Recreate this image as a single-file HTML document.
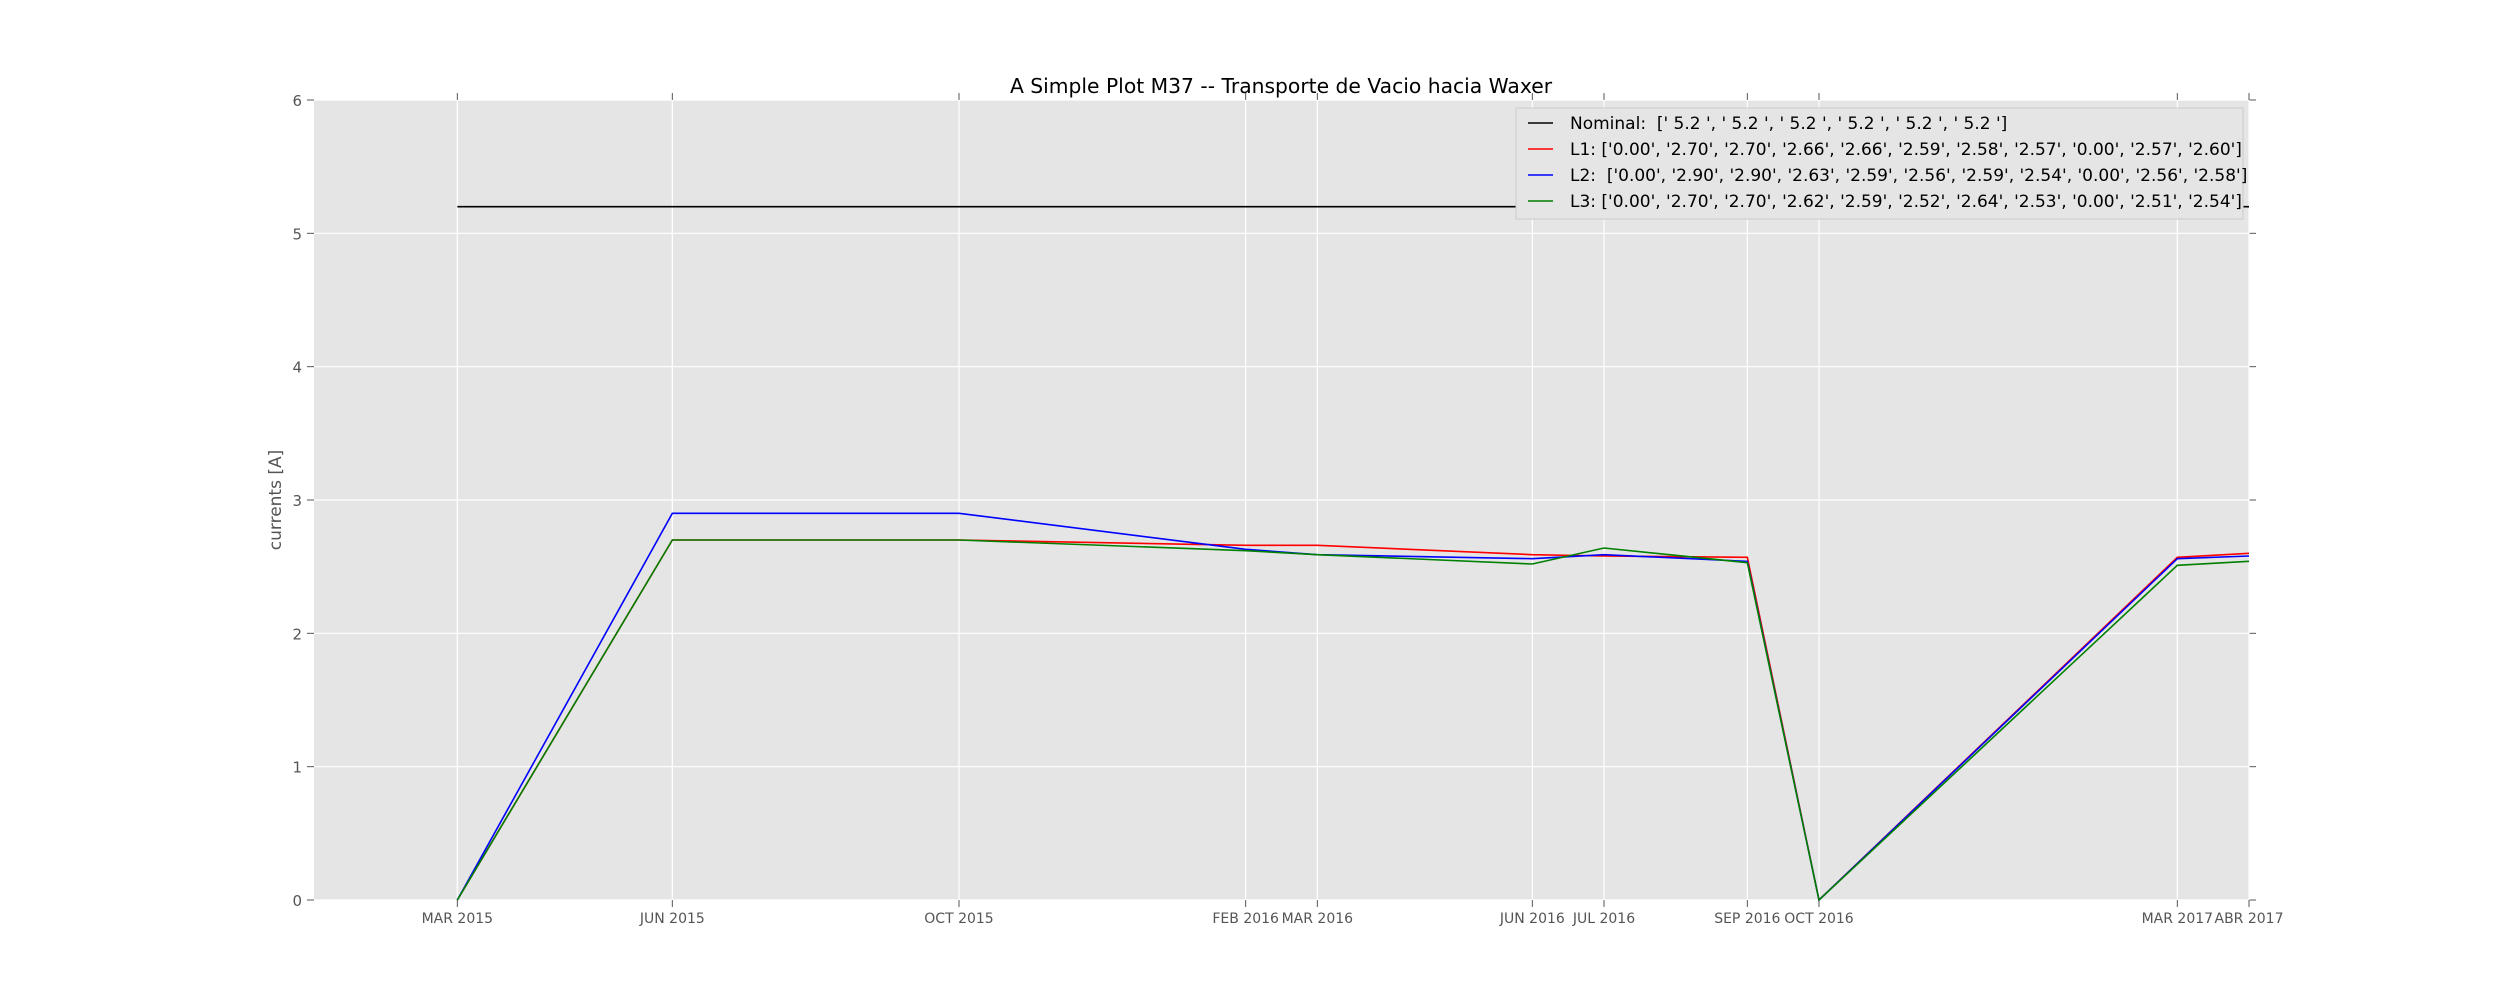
<!DOCTYPE html>
<html><head><meta charset="utf-8"><style>
body{margin:0;background:#fff;}
svg{display:block;font-family:"DejaVu Sans","Liberation Sans",sans-serif;}
text{white-space:pre;}
</style></head><body>
<svg id="chart" width="2500" height="1000"></svg>
<script>
const categories=["MAR 2015","JUN 2015","OCT 2015","FEB 2016","MAR 2016","JUN 2016","JUL 2016","SEP 2016","OCT 2016","MAR 2017","ABR 2017"];
const monthIndex=[2,5,9,13,14,17,18,20,21,26,27];
const nominal=[5.2,5.2,5.2,5.2,5.2,5.2,5.2,5.2,5.2,5.2,5.2];
const l1=[0.00,2.70,2.70,2.66,2.66,2.59,2.58,2.57,0.00,2.57,2.60];
const l2=[0.00,2.90,2.90,2.63,2.59,2.56,2.59,2.54,0.00,2.56,2.58];
const l3=[0.00,2.70,2.70,2.62,2.59,2.52,2.64,2.53,0.00,2.51,2.54];
const yTicks=[0,1,2,3,4,5,6];
const legendLabels=["Nominal:  [' 5.2 ', ' 5.2 ', ' 5.2 ', ' 5.2 ', ' 5.2 ', ' 5.2 ']",
"L1: ['0.00', '2.70', '2.70', '2.66', '2.66', '2.59', '2.58', '2.57', '0.00', '2.57', '2.60']",
"L2:  ['0.00', '2.90', '2.90', '2.63', '2.59', '2.56', '2.59', '2.54', '0.00', '2.56', '2.58']",
"L3: ['0.00', '2.70', '2.70', '2.62', '2.59', '2.52', '2.64', '2.53', '0.00', '2.51', '2.54']"];
const L=314,R=2249,T=100,B=900,xMin=0,xMax=27,yMin=0,yMax=6;
const xs=m=>L+(m-xMin)/(xMax-xMin)*(R-L);
const ys=v=>B-(v-yMin)/(yMax-yMin)*(B-T);
const svg=document.getElementById('chart');
const NS='http://www.w3.org/2000/svg';
function mk(t,a,p){const e=document.createElementNS(NS,t);for(const k in a)e.setAttribute(k,a[k]);(p||svg).appendChild(e);return e;}
const bg=mk('rect',{x:L,y:T,width:R-L,height:B-T,fill:'#e5e5e5'});


yTicks.forEach(v=>{
 const g=mk('line',{x1:L,x2:R,y1:ys(v),y2:ys(v),stroke:'#fff','stroke-width':1.2});
 
 
 mk('line',{x1:L-7,x2:L,y1:ys(v),y2:ys(v),stroke:'#555','stroke-width':1});
 mk('line',{x1:R,x2:R+7,y1:ys(v),y2:ys(v),stroke:'#555','stroke-width':1});
 const t=mk('text',{x:L-12,y:ys(v)+6,'text-anchor':'end','font-size':15,fill:'#555'});
 t.textContent=v;
 
 
});
monthIndex.forEach((m,i)=>{
 const g=mk('line',{x1:xs(m),x2:xs(m),y1:T,y2:B,stroke:'#fff','stroke-width':1.2});
 
 
 mk('line',{x1:xs(m),x2:xs(m),y1:B,y2:B+7,stroke:'#555','stroke-width':1});
 mk('line',{x1:xs(m),x2:xs(m),y1:T-7,y2:T,stroke:'#555','stroke-width':1});
 const t=mk('text',{x:xs(m),y:923,'text-anchor':'middle','font-size':14,fill:'#555'});
 t.textContent=categories[i];
 
 
});
function series(vals,color,name){
 const p=mk('polyline',{points:vals.map((v,i)=>xs(monthIndex[i])+','+ys(v)).join(' '),fill:'none',stroke:color,'stroke-width':1.6});
 
 
}
series(nominal,'#000','nominal-line');
series(l1,'#ff0000','l1-line');
series(l2,'#0000ff','l2-line');
series(l3,'#008000','l3-line');
const tt=mk('text',{x:1281,y:93,'text-anchor':'middle','font-size':20.3,fill:'#000'});
tt.textContent='A Simple Plot M37 -- Transporte de Vacio hacia Waxer';


const yl=mk('text',{x:0,y:0,transform:'translate(281,500) rotate(-90)','text-anchor':'middle','font-size':17,fill:'#555'});
yl.textContent='currents [A]';


const lg=mk('g',{});


mk('rect',{x:1516,y:108,width:727,height:111,fill:'#e5e5e5',stroke:'#ccc','stroke-width':1},lg);
const colors=['#000','#ff0000','#0000ff','#008000'];
legendLabels.forEach((s,i)=>{
 const y=123+i*26;
 mk('line',{x1:1528,x2:1553,y1:y,y2:y,stroke:colors[i],'stroke-width':1.6},lg);
 const t=mk('text',{x:1570,y:y+6,'font-size':17,fill:'#000'},lg);
 t.textContent=s;
 
 
});
</script>
</body></html>
